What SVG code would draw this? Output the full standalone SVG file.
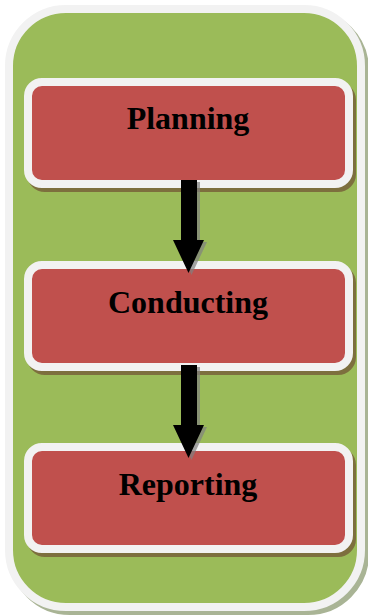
<svg xmlns="http://www.w3.org/2000/svg" width="368" height="616" viewBox="0 0 368 616">
<defs>
<style>
.sh{fill:none;stroke:#7d6f3e;stroke-width:8}
.box{fill:#c0504d;stroke:#f2f2f2;stroke-width:8}
.lbl{font-family:"Liberation Serif","Times New Roman",serif;font-weight:bold;font-size:32px;fill:#000;text-anchor:middle}
.arr{fill:#000}
.arrsh{fill:#808080;opacity:0.7}
</style>
<path id="arrow" d="M0,0 H16 V60 H23 L7.5,93 L-8,60 H0 Z"/>
</defs>
<g id="container">
<rect x="13" y="13" width="352" height="598" rx="57" fill="none" stroke="#a9b495" stroke-width="8"/>
<rect x="9" y="9" width="352" height="598" rx="57" fill="#9bbb59" stroke="#f2f2f2" stroke-width="8"/>
</g>
<g id="planning">
<rect x="31" y="86" width="321" height="102" rx="14" class="sh"/>
<rect x="28" y="82" width="321" height="102" rx="14" class="box"/>
<text x="188" y="129" class="lbl">Planning</text>
</g>
<g id="conducting">
<rect x="31" y="269" width="321" height="102" rx="14" class="sh"/>
<rect x="28" y="265" width="321" height="102" rx="14" class="box"/>
<text x="188" y="313" class="lbl">Conducting</text>
</g>
<g id="reporting">
<rect x="31" y="451" width="321" height="102" rx="14" class="sh"/>
<rect x="28" y="447" width="321" height="102" rx="14" class="box"/>
<text x="188" y="495" class="lbl">Reporting</text>
</g>
<g id="connectors">
<use href="#arrow" x="184" y="182" class="arrsh"/>
<use href="#arrow" x="181" y="180" class="arr"/>
<use href="#arrow" x="184" y="367" class="arrsh"/>
<use href="#arrow" x="181" y="365" class="arr"/>
</g>
</svg>
